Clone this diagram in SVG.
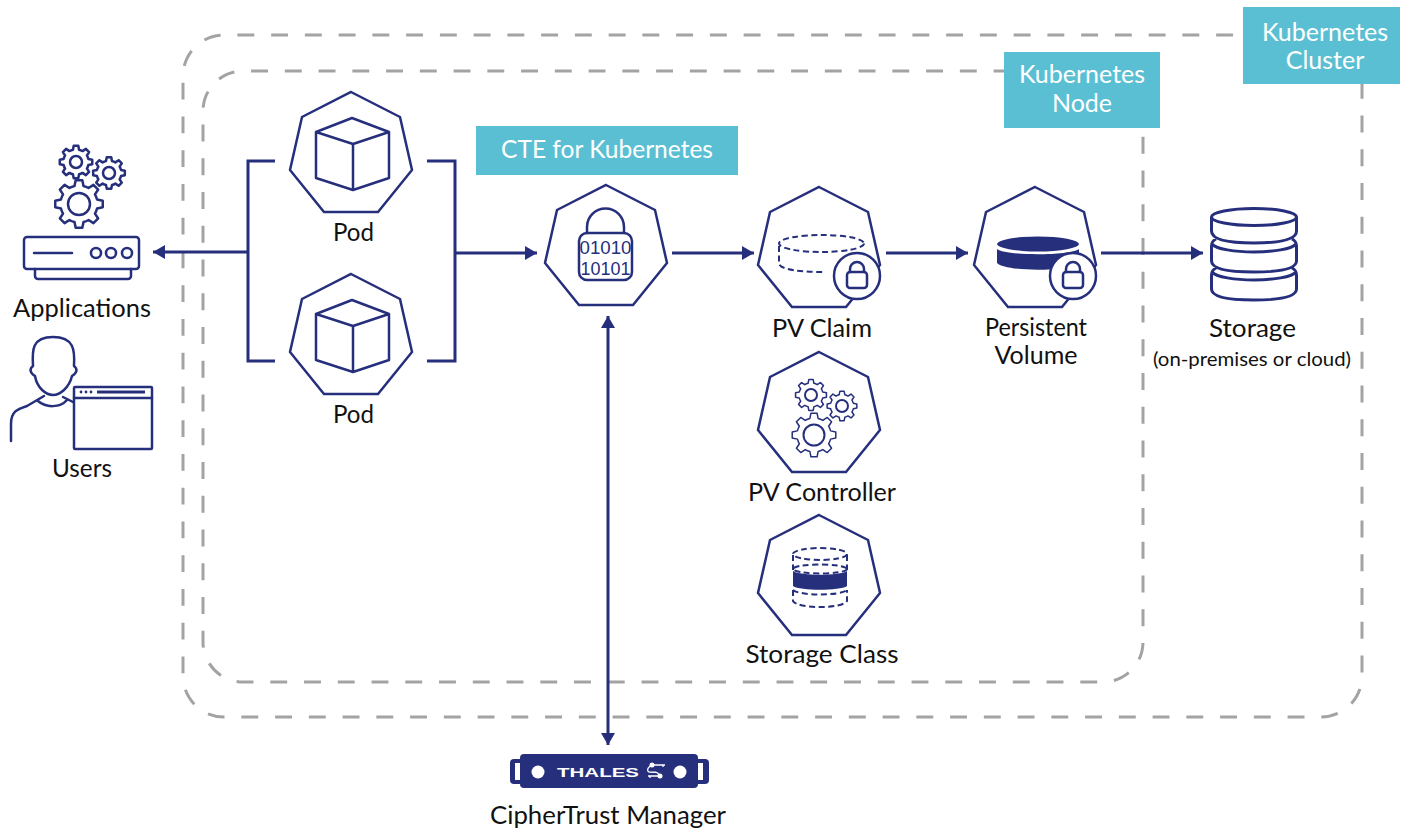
<svg xmlns="http://www.w3.org/2000/svg" width="1406" height="831" viewBox="0 0 1406 831">
<style>
text{font-family:"Lato","Liberation Sans",sans-serif;font-size:25px;fill:#111;text-anchor:middle}
.tag{fill:#fff;font-size:25px}
.band{fill:#5bbfd4}
.dash{fill:none;stroke:#a3a3a3;stroke-width:3;stroke-dasharray:16.900 16.850}
.l{fill:none;stroke:#262f7c;stroke-width:2.500;stroke-linejoin:round;stroke-linecap:round}
.t{fill:none;stroke:#262f7c;stroke-width:2}
.d{fill:none;stroke:#262f7c;stroke-width:2;stroke-dasharray:6 3.500}
.f{fill:#262f7c}
.c{fill:none;stroke:#262f7c;stroke-width:3}
.g1{stroke-width:2.500}
.g2{stroke-width:1.500}
.bits{font-family:"Liberation Sans",sans-serif;font-size:19px;fill:#262f7c}
.brand{font-family:"Liberation Sans",sans-serif;font-size:13px;font-weight:700;fill:#fff}
</style>
<defs>
<marker id="a" markerUnits="userSpaceOnUse" markerWidth="14" markerHeight="14" refX="12" refY="7" orient="auto-start-reverse"><path d="M0 0L12 7L0 14Z" fill="#262f7c"/></marker>
<polygon id="hept" points="0,0 49,25 61,78 27,120 -27,120 -61,78 -49,25" fill="#fff" stroke="#262f7c" stroke-width="2.500" stroke-linejoin="miter"/>
<path id="gear" fill="#fff" stroke="#262f7c" stroke-linejoin="round" vector-effect="non-scaling-stroke" d="M-3.750,-15.040L-2.780,-19.800L2.780,-19.800L3.750,-15.040A15.500,15.500 0 0 1 7.980,-13.290L12.040,-15.970L15.970,-12.040L13.290,-7.980A15.500,15.500 0 0 1 15.040,-3.750L19.800,-2.780L19.800,2.780L15.040,3.750A15.500,15.500 0 0 1 13.290,7.980L15.970,12.040L12.040,15.970L7.980,13.290A15.500,15.500 0 0 1 3.750,15.040L2.780,19.800L-2.780,19.800L-3.750,15.040A15.500,15.500 0 0 1 -7.980,13.290L-12.040,15.970L-15.970,12.040L-13.290,7.980A15.500,15.500 0 0 1 -15.040,3.750L-19.800,2.780L-19.800,-2.780L-15.040,-3.750A15.500,15.500 0 0 1 -13.290,-7.980L-15.970,-12.040L-12.040,-15.970L-7.980,-13.290A15.500,15.500 0 0 1 -3.750,-15.040Z"/>
<g id="lockbadge"><circle r="23" fill="#fff" stroke="#262f7c" stroke-width="2.500"/><rect x="-10" y="-4" width="20" height="16" rx="3" class="l"/><path d="M-7,-4V-7A7,7 0 0 1 7,-7V-4" class="l"/></g>
</defs>

<g id="connectors">
<path class="dash" stroke-dashoffset="23.800" d="M1243,35H224A41,41 0 0 0 183,76V676A41,41 0 0 0 224,717H1321A41,41 0 0 0 1362,676V84"/>
<path class="dash" stroke-dashoffset="6.500" d="M1004,71H243A40,40 0 0 0 203,111V642A40,40 0 0 0 243,682H1103A40,40 0 0 0 1143,642V128"/>
<path d="M275,161H248V361H275" class="c"/>
<path d="M427,161H455V361H427" class="c"/>
<path d="M248,252H153" class="c" marker-end="url(#a)"/>
<path d="M455,253H537" class="c" marker-end="url(#a)"/>
<path d="M672,253H754" class="c" marker-end="url(#a)"/>
<path d="M886,253H968" class="c" marker-end="url(#a)"/>
<path d="M1101,253H1203" class="c" marker-end="url(#a)"/>
<path d="M608,316V745" class="c" marker-start="url(#a)" marker-end="url(#a)"/>
</g>

<g id="label-cluster"><rect class="band" x="1243" y="7" width="157" height="77"/><text class="tag" x="1325" y="41">Kubernetes</text><text class="tag" x="1325" y="69">Cluster</text></g>
<g id="label-node"><rect class="band" x="1004" y="52" width="156" height="76"/><text class="tag" x="1082" y="83">Kubernetes</text><text class="tag" x="1082" y="112">Node</text></g>
<g id="label-cte"><rect class="band" x="476" y="126" width="262" height="49"/><text class="tag" x="607" y="158" textLength="212" lengthAdjust="spacingAndGlyphs">CTE for Kubernetes</text></g>

<g id="applications">
<use href="#gear" class="g1" transform="translate(76,162) scale(.82)"/>
<use href="#gear" class="g1" transform="translate(109,173) scale(.8)"/>
<use href="#gear" class="g1" transform="translate(79,204) scale(1.2)"/>
<circle cx="76" cy="162" r="6" class="l"/><circle cx="109" cy="173" r="6" class="l"/><circle cx="79" cy="204" r="11" class="l"/>
<rect x="24" y="237" width="115" height="32" rx="3" class="l"/>
<path d="M34,253H72M35,269V276A3,3 0 0 0 38,279H128A3,3 0 0 0 131,276V269" class="l"/>
<circle cx="96" cy="253" r="5" class="l"/><circle cx="111" cy="253" r="5" class="l"/><circle cx="127" cy="253" r="5" class="l"/>
<text x="82" y="317" textLength="138" lengthAdjust="spacingAndGlyphs">Applications</text>
</g>

<g id="users">
<path class="l" d="M33,366C32,350 32,337 53,337C74,337 75,350 74,366C78,369 77,373 72,376C69,388 60,395 53,395C46,395 37,388 35,376C30,373 29,369 33,366Z"/>
<path class="l" d="M11,441V424C11,411 18,409 27,406L44,396M73,402L63,397M38,401C46,408 60,408 67,400"/>
<rect x="74" y="387" width="78" height="62" rx="1" class="l"/>
<path d="M74,398H152" class="l"/><path d="M97,392H145" class="c"/>
<circle cx="81" cy="392" r="1.400" class="f"/><circle cx="86" cy="392" r="1.400" class="f"/><circle cx="91" cy="392" r="1.400" class="f"/>
<text x="82" y="477" textLength="60" lengthAdjust="spacingAndGlyphs">Users</text>
</g>

<g id="pod-1">
<use href="#hept" x="351" y="92"/>
<path d="M352,118L389,132V178L353,190L316,178V132ZM316,132L353,144L389,132M353,144V190" class="l"/>
<text x="353.500" y="241" textLength="41" lengthAdjust="spacingAndGlyphs">Pod</text>
</g>
<g id="pod-2">
<use href="#hept" x="351" y="274"/>
<path d="M352,300L389,314V360L353,372L316,360V314ZM316,314L353,326L389,314M353,326V372" class="l"/>
<text x="353.500" y="423" textLength="41" lengthAdjust="spacingAndGlyphs">Pod</text>
</g>

<g id="cte">
<use href="#hept" x="606" y="185"/>
<path d="M587,233V227A18.500,18.500 0 0 1 624,227V233" class="l"/>
<rect x="579" y="233" width="53" height="47" rx="8" class="l"/>
<text class="bits" x="605.500" y="254" textLength="52" lengthAdjust="spacingAndGlyphs">01010</text>
<text class="bits" x="605.500" y="275" textLength="50" lengthAdjust="spacingAndGlyphs">10101</text>
</g>

<g id="pv-claim">
<use href="#hept" x="819" y="187"/>
<ellipse cx="821.500" cy="243.500" rx="42.500" ry="8.500" class="d"/>
<path d="M779,246V264C782,270 800,272 825,272" class="d"/>
<use href="#lockbadge" x="857" y="276"/>
<text x="822" y="337" textLength="100" lengthAdjust="spacingAndGlyphs">PV Claim</text>
</g>

<g id="persistent-volume">
<use href="#hept" x="1035" y="187"/>
<ellipse cx="1038" cy="244" rx="41" ry="7.500" class="f"/>
<path d="M997,249C1005,256 1070,256 1079,249V263C1070,272 1005,272 997,263Z" class="f"/>
<use href="#lockbadge" x="1073" y="276"/>
<text x="1036" y="336" textLength="102" lengthAdjust="spacingAndGlyphs">Persistent</text><text x="1036" y="364" textLength="83" lengthAdjust="spacingAndGlyphs">Volume</text>
</g>

<g id="storage">
<ellipse cx="1254" cy="217" rx="42.500" ry="8.500" class="c"/>
<path class="c" stroke-linejoin="round" d="M1211.500,217V231C1211.500,240 1228,243 1254,243C1280,243 1296.500,240 1296.500,231V217M1216,239C1212,241 1211.500,243 1211.500,246V261C1211.500,269 1228,272 1254,272C1280,272 1296.500,269 1296.500,261V246C1296.500,243 1296,241 1292,239M1212,244C1216,249 1235,252 1254,252C1273,252 1292,249 1296,244M1216,268C1212,270 1211.500,272 1211.500,275V289C1211.500,297 1228,300 1254,300C1280,300 1296.500,297 1296.500,289V275C1296.500,272 1296,270 1292,268M1212,272C1216,277 1235,280 1254,280C1273,280 1292,277 1296,272"/>
<text x="1252.500" y="337" textLength="87" lengthAdjust="spacingAndGlyphs">Storage</text>
<text x="1252" y="366" style="font-size:20px" textLength="198" lengthAdjust="spacingAndGlyphs">(on-premises or cloud)</text>
</g>

<g id="pv-controller">
<use href="#hept" x="819" y="352"/>
<use href="#gear" class="g2" transform="translate(811,395) scale(.78)"/>
<use href="#gear" class="g2" transform="translate(842,406) scale(.75)"/>
<use href="#gear" class="g2" transform="translate(814,435) scale(1.100)"/>
<circle cx="811" cy="395" r="6" class="t"/><circle cx="842" cy="406" r="6" class="t"/><circle cx="814" cy="435" r="10.500" class="t"/>
<text x="822" y="501" textLength="148" lengthAdjust="spacingAndGlyphs">PV Controller</text>
</g>

<g id="storage-class">
<use href="#hept" x="819" y="515"/>
<ellipse cx="820" cy="554" rx="27" ry="6" class="d"/>
<path d="M793,555V570M847,555V570M793,590V601C797,609 843,609 847,601V590" class="d"/>
<ellipse cx="820" cy="569" rx="27" ry="4.500" class="d"/>
<path d="M793,571C800,576 840,576 847,571V586C840,591 800,591 793,586Z" class="f"/>
<path d="M793,590C800,596 840,596 847,590" class="d"/>
<text x="822" y="663" textLength="153" lengthAdjust="spacingAndGlyphs">Storage Class</text>
</g>

<g id="ciphertrust">
<rect x="510" y="759" width="199" height="25" rx="4" class="f"/>
<rect x="515" y="763" width="5" height="17" fill="#fff"/><rect x="698" y="763" width="5" height="17" fill="#fff"/>
<rect x="520" y="754" width="178" height="34" rx="4" class="f"/>
<circle cx="538" cy="772" r="6.500" fill="#fff"/><circle cx="680" cy="772" r="6.500" fill="#fff"/>
<text class="brand" x="598" y="776.500" textLength="82" lengthAdjust="spacingAndGlyphs">THALES</text>
<path d="M652,765H665M663,765V767M660,776H648M650,776V778M650,766C647,769 647,771 649,772C656,772 658,772 659,775" stroke="#fff" stroke-width="1.300" fill="none"/><circle cx="652" cy="765" r="2.500" fill="#fff"/><circle cx="660" cy="776" r="2.500" fill="#fff"/>
<text x="608" y="824" textLength="236" lengthAdjust="spacingAndGlyphs">CipherTrust Manager</text>
</g>
</svg>
